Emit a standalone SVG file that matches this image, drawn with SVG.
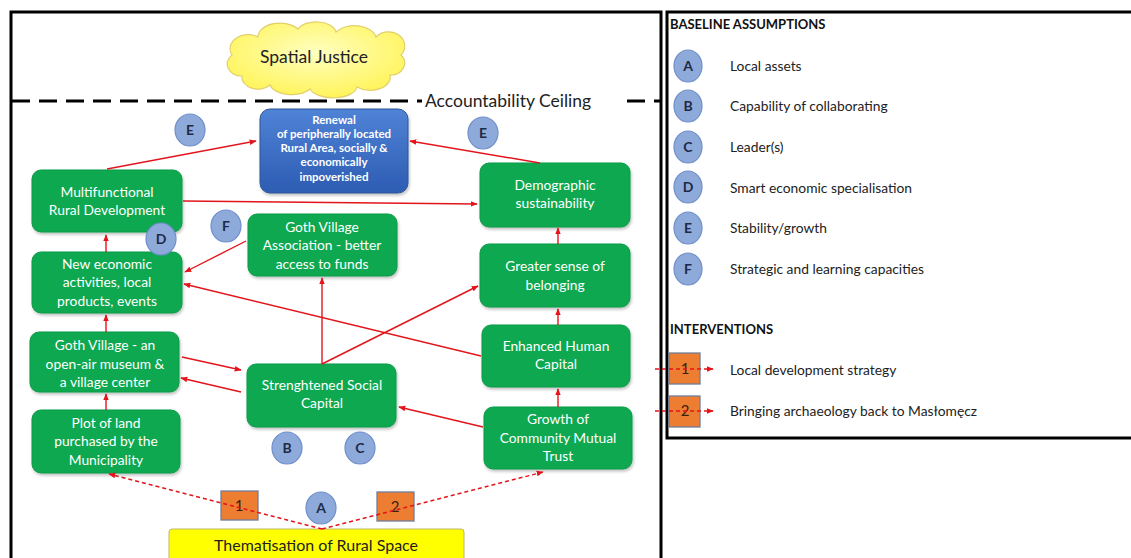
<svg xmlns="http://www.w3.org/2000/svg" width="1131" height="558" viewBox="0 0 1131 558">
<style>
text{font-family:"Lato","Open Sans","Liberation Sans",sans-serif}
.g{fill:#0aa84f;stroke:#0a9a48;stroke-width:1}
.gt{fill:#ffffff;font-size:13.8px;text-anchor:middle}
.c{fill:#8eaadb;stroke:#6f8fca;stroke-width:1.2}
.ct{fill:#1f2a44;font-size:14px;text-anchor:middle;font-weight:bold}
.o{fill:#ed7d31;stroke:#6f7f9a;stroke-width:1.3}
.ot{fill:#3a2010;font-size:15px;text-anchor:middle}
.e{fill:none;stroke:#e3141b;stroke-width:1.4;marker-end:url(#ah)}
.d{fill:none;stroke:#e3141b;stroke-width:1.4;stroke-dasharray:4 3;marker-end:url(#ah)}
.lt{fill:#222;font-size:13.8px}
.hd{fill:#111;font-size:13px;font-weight:bold}
.frame{fill:none;stroke:#000;stroke-width:3}
</style>
<defs>
<marker id="ah" viewBox="0 0 10 10" refX="9" refY="5" markerWidth="7" markerHeight="7" orient="auto" markerUnits="userSpaceOnUse"><path d="M0,1 L10,5 L0,9 z" fill="#e3141b"/></marker>
<linearGradient id="blue" x1="0" y1="0" x2="0" y2="1"><stop offset="0" stop-color="#4f83d6"/><stop offset="1" stop-color="#2d5cb3"/></linearGradient>
<radialGradient id="cloud" cx="0.5" cy="0.4" r="0.6"><stop offset="0" stop-color="#ffffc0"/><stop offset="1" stop-color="#fff45a"/></radialGradient>
<filter id="sh" x="-10%" y="-10%" width="120%" height="130%"><feDropShadow dx="1" dy="2" stdDeviation="1.5" flood-color="#000" flood-opacity="0.25"/></filter>
</defs>
<rect width="1131" height="558" fill="#ffffff"/>
<rect class="frame" x="11" y="12" width="650" height="560"/>
<rect class="frame" x="667" y="12" width="480" height="426"/>

<g id="cloud-spatial-justice">
<path d="M242,76 A14,12 0 0 1 232,55 A18,14 0 0 1 258,37 A22,14 0 0 1 298,29 A20,12 0 0 1 336,32 A22,14 0 0 1 376,37 A16,14 0 0 1 401,55 A14,12 0 0 1 390,75 A20,13 0 0 1 357,87 A24,12 0 0 1 310,89 A22,12 0 0 1 270,85 A16,12 0 0 1 242,76 Z" fill="url(#cloud)" stroke="#e2cf6a" stroke-width="1.2"/>
<text x="314" y="63" font-size="17.5" fill="#222" text-anchor="middle">Spatial Justice</text>
</g>

<g id="ceiling">
<line x1="12" y1="101" x2="422" y2="101" stroke="#000" stroke-width="3" stroke-dasharray="18 9"/>
<text x="425" y="107" font-size="17.5" fill="#222">Accountability Ceiling</text>
<line x1="627" y1="101" x2="660" y2="101" stroke="#000" stroke-width="3" stroke-dasharray="18 9"/>
</g>

<g id="renewal">
<rect x="260" y="109" width="148" height="84" rx="10" fill="url(#blue)" stroke="#2f5597" filter="url(#sh)"/>
<text font-size="11.5" font-weight="bold" fill="#fff" text-anchor="middle"><tspan x="334" y="124">Renewal</tspan><tspan x="334" y="138">of peripherally located</tspan><tspan x="334" y="152">Rural Area, socially &amp;</tspan><tspan x="334" y="166">economically</tspan><tspan x="334" y="181">impoverished</tspan></text>
</g>

<g id="multifunctional"><rect class="g" x="32" y="170" width="150" height="62" rx="9" filter="url(#sh)"/><text class="gt"><tspan x="107" y="197">Multifunctional</tspan><tspan x="107" y="215">Rural Development</tspan></text></g>
<g id="new-economic"><rect class="g" x="32" y="252" width="150" height="61" rx="9" filter="url(#sh)"/><text class="gt"><tspan x="107" y="269">New economic</tspan><tspan x="107" y="287">activities, local</tspan><tspan x="107" y="306">products, events</tspan></text></g>
<g id="goth-village"><rect class="g" x="30" y="332" width="149" height="60" rx="9" filter="url(#sh)"/><text class="gt"><tspan x="105" y="350">Goth Village - an</tspan><tspan x="105" y="369">open-air museum &amp;</tspan><tspan x="105" y="387">a village center</tspan></text></g>
<g id="plot-of-land"><rect class="g" x="32" y="410" width="148" height="63" rx="9" filter="url(#sh)"/><text class="gt"><tspan x="106" y="428">Plot of land</tspan><tspan x="106" y="446">purchased by the</tspan><tspan x="106" y="465">Municipality</tspan></text></g>
<g id="goth-association"><rect class="g" x="248" y="214" width="149" height="62" rx="9" filter="url(#sh)"/><text class="gt"><tspan x="322" y="232">Goth Village</tspan><tspan x="322" y="250">Association - better</tspan><tspan x="322" y="269">access to funds</tspan></text></g>
<g id="demographic"><rect class="g" x="480" y="163" width="150" height="64" rx="9" filter="url(#sh)"/><text class="gt"><tspan x="555" y="190">Demographic</tspan><tspan x="555" y="208">sustainability</tspan></text></g>
<g id="belonging"><rect class="g" x="480" y="244" width="150" height="63" rx="9" filter="url(#sh)"/><text class="gt"><tspan x="555" y="271">Greater sense of</tspan><tspan x="555" y="290">belonging</tspan></text></g>
<g id="human-capital"><rect class="g" x="482" y="325" width="148" height="62" rx="9" filter="url(#sh)"/><text class="gt"><tspan x="556" y="351">Enhanced Human</tspan><tspan x="556" y="369">Capital</tspan></text></g>
<g id="mutual-trust"><rect class="g" x="484" y="407" width="148" height="62" rx="9" filter="url(#sh)"/><text class="gt"><tspan x="558" y="424">Growth of</tspan><tspan x="558" y="443">Community Mutual</tspan><tspan x="558" y="461">Trust</tspan></text></g>
<g id="social-capital"><rect class="g" x="247" y="364" width="149" height="63" rx="9" filter="url(#sh)"/><text class="gt"><tspan x="322" y="390">Strenghtened Social</tspan><tspan x="322" y="408">Capital</tspan></text></g>

<g id="circle-E1"><ellipse class="c" cx="190" cy="130" rx="15" ry="16"/><text class="ct" x="190" y="135">E</text></g>
<g id="circle-E2"><ellipse class="c" cx="483" cy="133" rx="15" ry="16"/><text class="ct" x="483" y="138">E</text></g>
<g id="circle-D"><ellipse class="c" cx="161" cy="239" rx="15" ry="16"/><text class="ct" x="161" y="244">D</text></g>
<g id="circle-F"><ellipse class="c" cx="226" cy="226" rx="15" ry="16"/><text class="ct" x="226" y="231">F</text></g>
<g id="circle-B"><ellipse class="c" cx="287" cy="448" rx="15" ry="16"/><text class="ct" x="287" y="453">B</text></g>
<g id="circle-C"><ellipse class="c" cx="360" cy="448" rx="15" ry="16"/><text class="ct" x="360" y="453">C</text></g>
<g id="circle-A"><ellipse class="c" cx="321" cy="508" rx="15" ry="16"/><text class="ct" x="321" y="513">A</text></g>

<g id="intervention-1"><rect class="o" x="221" y="491" width="37" height="29"/><text class="ot" x="239" y="511">1</text></g>
<g id="intervention-2"><rect class="o" x="377" y="492" width="37" height="29"/><text class="ot" x="395" y="512">2</text></g>

<g id="thematisation"><rect x="169" y="529" width="295" height="32" rx="3" fill="#ffff00" stroke="#bdb76b" stroke-width="1"/><text x="316" y="551" font-size="16" fill="#222" text-anchor="middle">Thematisation of Rural Space</text></g>

<g id="legend">
<text class="hd" x="670" y="29">BASELINE ASSUMPTIONS</text>
<ellipse class="c" cx="688" cy="66" rx="14" ry="16"/><text class="ct" x="688" y="71">A</text><text class="lt" x="730" y="71">Local assets</text>
<ellipse class="c" cx="688" cy="106" rx="14" ry="16"/><text class="ct" x="688" y="111">B</text><text class="lt" x="730" y="111">Capability of collaborating</text>
<ellipse class="c" cx="688" cy="147" rx="14" ry="16"/><text class="ct" x="688" y="152">C</text><text class="lt" x="730" y="152">Leader(s)</text>
<ellipse class="c" cx="688" cy="187" rx="14" ry="16"/><text class="ct" x="688" y="192">D</text><text class="lt" x="730" y="193">Smart economic specialisation</text>
<ellipse class="c" cx="688" cy="228" rx="14" ry="16"/><text class="ct" x="688" y="233">E</text><text class="lt" x="730" y="233">Stability/growth</text>
<ellipse class="c" cx="688" cy="269" rx="14" ry="16"/><text class="ct" x="688" y="274">F</text><text class="lt" x="730" y="274">Strategic and learning capacities</text>
<text class="hd" x="670" y="334">INTERVENTIONS</text>
<rect class="o" x="669" y="353" width="31" height="31"/><text class="ot" x="685" y="374">1</text><text class="lt" x="730" y="375">Local development strategy</text>
<rect class="o" x="669" y="396" width="31" height="31"/><text class="ot" x="685" y="416">2</text><text class="lt" x="730" y="416">Bringing archaeology back to Masłomęcz</text>
</g>

<g id="connectors">
<line class="e" x1="107" y1="169" x2="256" y2="141"/>
<line class="e" x1="183" y1="201" x2="477" y2="204"/>
<line class="e" x1="540" y1="163" x2="410" y2="141"/>
<line class="e" x1="106" y1="252" x2="106" y2="235"/>
<line class="e" x1="246" y1="241" x2="185" y2="272"/>
<line class="e" x1="481" y1="356" x2="184" y2="284"/>
<line class="e" x1="106" y1="332" x2="106" y2="315"/>
<line class="e" x1="106" y1="410" x2="106" y2="394"/>
<line class="e" x1="182" y1="357" x2="241" y2="370"/>
<line class="e" x1="241" y1="392" x2="181" y2="378"/>
<line class="e" x1="322" y1="364" x2="322" y2="278"/>
<line class="e" x1="322" y1="364" x2="478" y2="286"/>
<line class="e" x1="483" y1="427" x2="399" y2="407"/>
<line class="e" x1="558" y1="407" x2="558" y2="389"/>
<line class="e" x1="558" y1="325" x2="558" y2="309"/>
<line class="e" x1="558" y1="244" x2="558" y2="228"/>
<line class="d" x1="322" y1="529" x2="109" y2="474"/>
<line class="d" x1="322" y1="529" x2="543" y2="472"/>
<line class="d" x1="655" y1="369" x2="713" y2="369"/>
<line class="d" x1="655" y1="411" x2="713" y2="411"/>
</g>
</svg>
